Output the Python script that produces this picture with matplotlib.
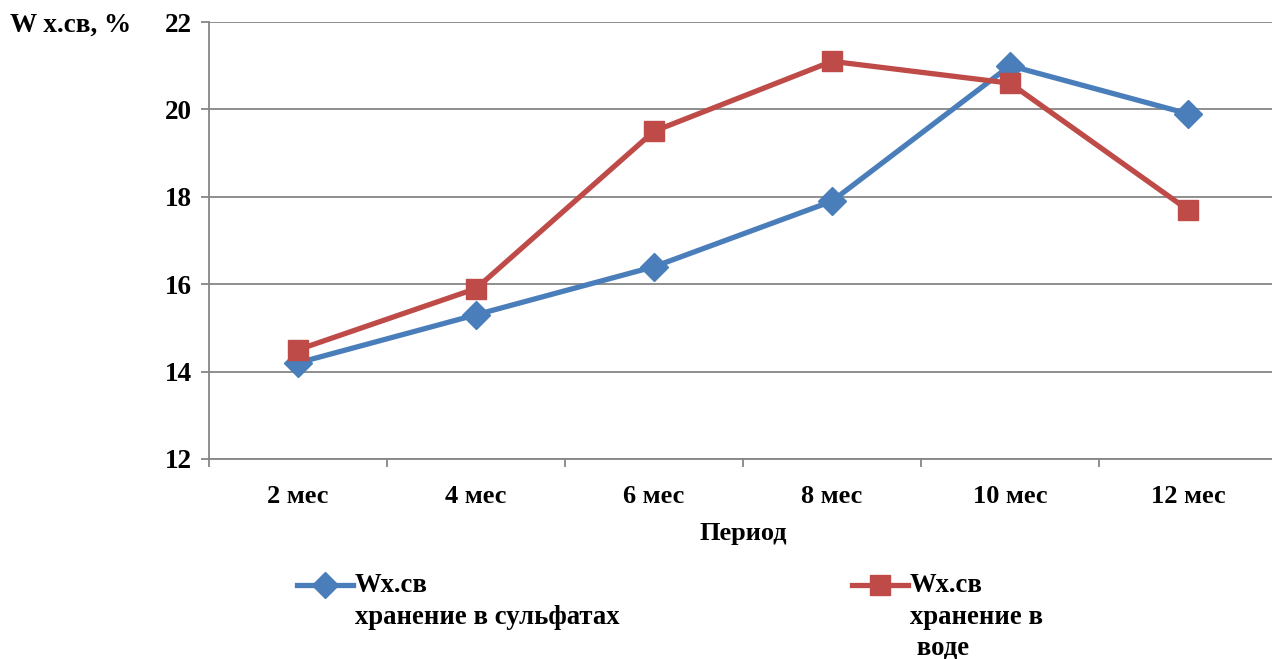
import matplotlib
matplotlib.use("Agg")
import matplotlib.pyplot as plt
from matplotlib.lines import Line2D

plt.rcParams['font.family'] = ['Liberation Serif', 'DejaVu Serif']
plt.rcParams['font.weight'] = 'bold'

periods = ['2 мес', '4 мес', '6 мес', '8 мес', '10 мес', '12 мес']
w_sulfate = [14.2, 15.3, 16.4, 17.9, 21.0, 19.9]
w_water = [14.5, 15.9, 19.5, 21.1, 20.6, 17.7]
yticks = [12, 14, 16, 18, 20, 22]

blue = '#4A7EBB'
red = '#BE4B48'
grey = '#868686'

fig = plt.figure(figsize=(12.72, 6.59), dpi=100)
ax = fig.add_axes([209 / 1272, 1 - 459 / 659, 1068 / 1272, 437 / 659])

x = list(range(len(periods)))
ax.plot(x, w_sulfate, color=blue, lw=3.8, marker='D', ms=14, zorder=3)
ax.plot(x, w_water, color=red, lw=3.8, marker='s', ms=15, zorder=4)

ax.set_xlim(-0.5, len(periods) - 0.5)
ax.set_ylim(12, 22)
ax.set_yticks(yticks)
ax.set_yticklabels([str(v) for v in yticks], fontsize=19.5, fontweight='bold')
ax.yaxis.grid(True, color=grey, lw=1.3)
ax.set_axisbelow(True)

ax.set_xticks(x)
ax.set_xticklabels(periods, fontsize=19, fontweight='bold')
ax.set_xticks([i - 0.5 for i in range(len(periods) + 1)], minor=True)
ax.tick_params(axis='x', which='major', length=0, pad=19)
ax.tick_params(axis='x', which='minor', length=6, width=1.3, color=grey, direction='out')
ax.tick_params(axis='y', length=6, width=1.3, color=grey, direction='out', pad=6)

for s in ['top', 'right']:
    ax.spines[s].set_visible(False)
for s in ['left', 'bottom']:
    ax.spines[s].set_color(grey)
    ax.spines[s].set_linewidth(1.3)

ax.set_xlabel('Период', fontsize=19, fontweight='bold', labelpad=10)
fig.text(10 / 1272, 1 - 25 / 659, 'W х.св, %', fontsize=19.5, fontweight='bold',
         ha='left', va='center')

# legend
def legend_entry(x0, color, marker, ms, lines):
    y0 = 1 - 585 / 659
    fig.add_artist(Line2D([x0 / 1272, (x0 + 56) / 1272], [y0, y0], color=color, lw=3.8))
    fig.add_artist(Line2D([(x0 + 28) / 1272], [y0], color=color, marker=marker, ms=ms))
    for i, t in enumerate(lines):
        fig.text((x0 + 58) / 1272, 1 - (585 + 32 * i) / 659, t, fontsize=19.3,
                 fontweight='bold', ha='left', va='center')

legend_entry(297, blue, 'D', 13, ['Wх.св', 'хранение в сульфатах'])
legend_entry(852, red, 's', 14, ['Wх.св', 'хранение в', ' воде'])

fig.savefig('out.png', dpi=100)
